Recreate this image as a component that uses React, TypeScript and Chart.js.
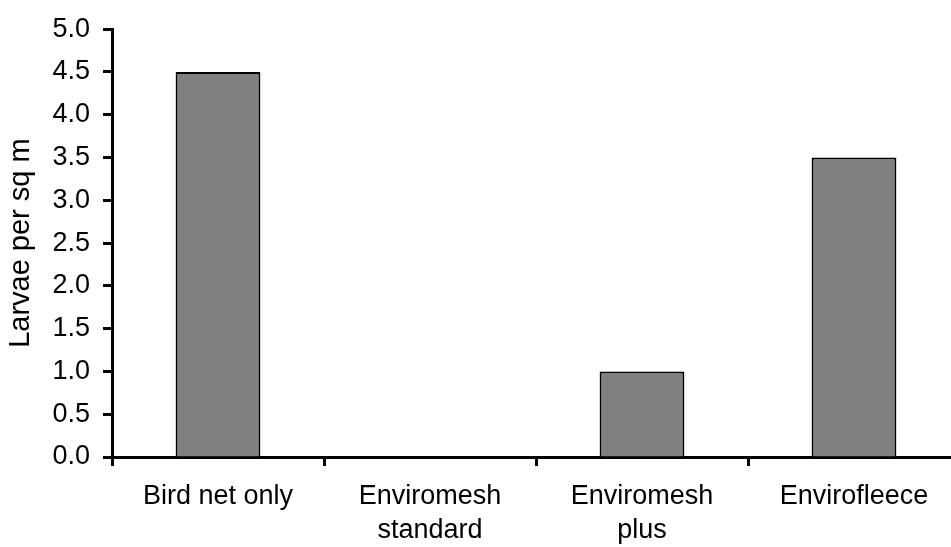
import React, { useEffect, useRef } from "react";
import { Chart, registerables } from "chart.js";

Chart.register(...registerables);

const categories: (string | string[])[] = [
  "Bird net only",
  ["Enviromesh", "standard"],
  ["Enviromesh", "plus"],
  "Envirofleece",
];
const larvaeValues: number[] = [4.5, 0, 1.0, 3.5];
const yAxisTitle = "Larvae per sq m";
const yMin = 0;
const yMax = 5;
const yStep = 0.5;

const FONT = "'Liberation Sans', Arial, sans-serif";

export default function App() {
  const canvasRef = useRef<HTMLCanvasElement | null>(null);

  useEffect(() => {
    const canvas = canvasRef.current;
    if (!canvas) return;
    const chart = new Chart(canvas, {
      type: "bar",
      data: {
        labels: categories,
        datasets: [
          {
            data: larvaeValues,
            backgroundColor: "#808080",
            borderColor: "#000000",
            borderWidth: 2,
            borderSkipped: "start",
            categoryPercentage: 1,
            barPercentage: 0.4,
          },
        ],
      },
      options: {
        animation: false,
        responsive: false,
        maintainAspectRatio: false,
        layout: { padding: { top: 28, right: 0, bottom: 0, left: 0 } },
        plugins: {
          legend: { display: false },
          tooltip: { enabled: false },
        },
        scales: {
          x: {
            offset: true,
            grid: {
              offset: true,
              drawOnChartArea: false,
              drawTicks: true,
              tickLength: 9,
              tickWidth: 3,
              tickColor: "#000000",
            },
            border: { display: true, color: "#000000", width: 3 },
            ticks: {
              color: "#000000",
              padding: 14,
              maxRotation: 0,
              autoSkip: false,
              font: { family: FONT, size: 27, lineHeight: 1.25 },
            },
            afterFit: (scale: any) => {
              scale.height = 90;
            },
          },
          y: {
            min: yMin,
            max: yMax,
            grid: {
              drawOnChartArea: false,
              drawTicks: true,
              tickLength: 9,
              tickWidth: 3,
              tickColor: "#000000",
            },
            border: { display: true, color: "#000000", width: 3 },
            ticks: {
              stepSize: yStep,
              color: "#000000",
              padding: 13,
              font: { family: FONT, size: 27 },
              callback: (v: any) => Number(v).toFixed(1),
            },
            title: {
              display: true,
              text: yAxisTitle,
              color: "#000000",
              padding: { top: 4, bottom: 0 },
              font: { family: FONT, size: 29, lineHeight: 1.2 },
            },
            afterFit: (scale: any) => {
              scale.width = 112;
            },
          },
        },
      },
    });
    return () => chart.destroy();
  }, []);

  return (
    <div
      style={{
        position: "fixed",
        left: 0,
        top: 0,
        width: 951,
        height: 547,
        overflow: "hidden",
        background: "#ffffff",
      }}
    >
      <canvas ref={canvasRef} width={960} height={547} style={{ display: "block" }} />
    </div>
  );
}
